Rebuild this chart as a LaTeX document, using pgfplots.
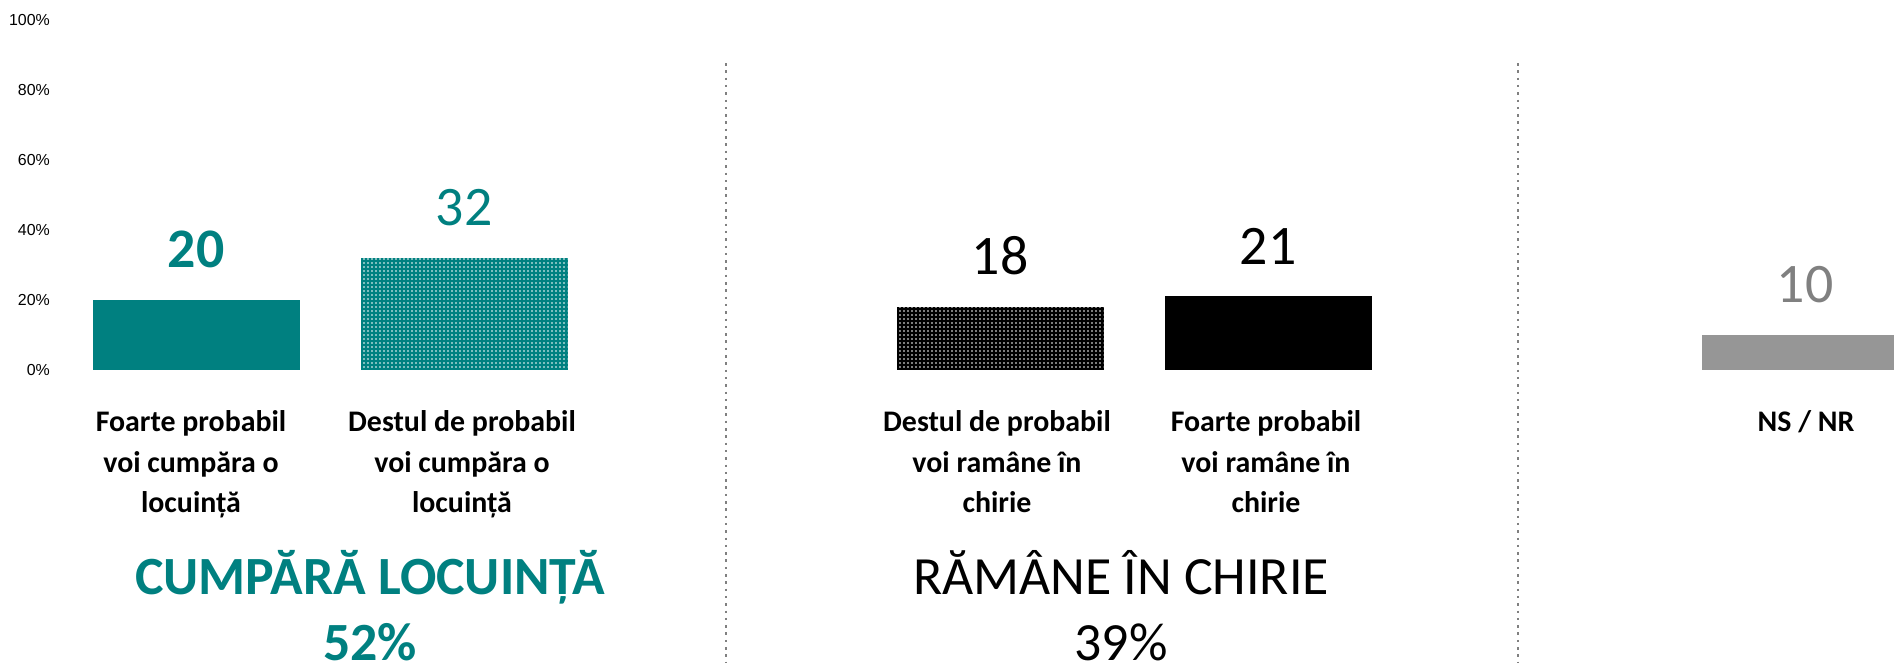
\documentclass[border=0pt]{standalone}
\usepackage{fontspec}
\setmainfont{Carlito}
\newfontfamily\arialfont{Liberation Sans}
\usepackage{pgfplots}
\pgfplotsset{compat=1.18}
\usetikzlibrary{patterns.meta}
\definecolor{teal1}{RGB}{0,128,128}
\definecolor{nsgray}{RGB}{150,150,150}
\definecolor{numgray}{RGB}{128,128,128}
\definecolor{dotgray}{RGB}{128,128,128}

\begin{document}
\begin{tikzpicture}
\useasboundingbox (0,0) rectangle (1894bp,663bp);
\begin{axis}[
  at={(60bp,293bp)}, anchor=south west,
  scale only axis, width=1834bp, height=350bp,
  xmin=60, xmax=1894, ymin=0, ymax=100,
  clip=false,
  axis line style={draw=none},
  major tick length=0pt,
  xtick=\empty,
  ytick={0,20,40,60,80,100},
  yticklabel={\pgfmathprintnumber{\tick}\%},
  yticklabel style={font=\arialfont\fontsize{16}{18}\selectfont, anchor=east, inner sep=0pt, xshift=-10bp},
  /pgf/number format/assume math mode=true,
  ybar, bar width=207bp,
]

\addplot[ybar, bar shift=0pt, fill=teal1, draw=none, nodes near coords,
  every node near coord/.style={font=\bfseries\fontsize{56}{60}\selectfont, text=teal1, anchor=base, yshift=32bp, inner sep=0pt}]
  coordinates {(196,20)};

\addplot[ybar, bar shift=0pt, fill=teal1, draw=none,
  postaction={pattern={Dots[distance=4bp, radius=0.9bp]}, pattern color=white},
  nodes near coords,
  every node near coord/.style={font=\fontsize{56}{60}\selectfont, text=teal1, anchor=base, yshift=32bp, inner sep=0pt}]
  coordinates {(464,32)};

\addplot[ybar, bar shift=0pt, fill=black, draw=none,
  postaction={pattern={Dots[distance=4bp, radius=0.9bp]}, pattern color=white},
  nodes near coords,
  every node near coord/.style={font=\fontsize{56}{60}\selectfont, text=black, anchor=base, yshift=32bp, inner sep=0pt}]
  coordinates {(1000,18)};

\addplot[ybar, bar shift=0pt, fill=black, draw=none, nodes near coords,
  every node near coord/.style={font=\fontsize{56}{60}\selectfont, text=black, anchor=base, yshift=32bp, inner sep=0pt}]
  coordinates {(1268,21)};

\addplot[ybar, bar shift=0pt, fill=nsgray, draw=none, nodes near coords,
  every node near coord/.style={font=\fontsize{56}{60}\selectfont, text=numgray, anchor=base, yshift=32bp, inner sep=0pt}]
  coordinates {(1805,10)};

% separators
\draw[dotgray, line width=2.5bp, dash pattern=on 2.5bp off 4.8bp] (axis cs:726,87.7) -- (axis cs:726,-84);
\draw[dotgray, line width=2.5bp, dash pattern=on 2.5bp off 4.8bp] (axis cs:1518,87.7) -- (axis cs:1518,-84);

% category labels
\begin{scope}[every node/.style={anchor=north, yshift=-40bp, align=center, inner sep=0pt, font=\bfseries\fontsize{30}{41}\selectfont}]
\node at (axis cs:191,0) {Foarte probabil\\voi cumpăra o\\locuință};
\node at (axis cs:462,0) {Destul de probabil\\voi cumpăra o\\locuință};
\node at (axis cs:997,0) {Destul de probabil\\voi ramâne în\\chirie};
\node at (axis cs:1266,0) {Foarte probabil\\voi ramâne în\\chirie};
\node at (axis cs:1806,0) {NS / NR};
\end{scope}

% group titles
\node[anchor=base, inner sep=0pt, yshift=-224bp, text=teal1, font=\bfseries\fontsize{54}{66}\selectfont] at (axis cs:370,0) {CUMPĂRĂ LOCUINȚĂ};
\node[anchor=base, inner sep=0pt, yshift=-290bp, text=teal1, font=\bfseries\fontsize{54}{66}\selectfont] at (axis cs:370,0) {52\%};
\node[anchor=base, inner sep=0pt, yshift=-224bp, text=black, font=\fontsize{54}{66}\selectfont] at (axis cs:1121,0) {RĂMÂNE ÎN CHIRIE};
\node[anchor=base, inner sep=0pt, yshift=-290bp, text=black, font=\fontsize{54}{66}\selectfont] at (axis cs:1121,0) {39\%};
\end{axis}
\end{tikzpicture}
\end{document}
